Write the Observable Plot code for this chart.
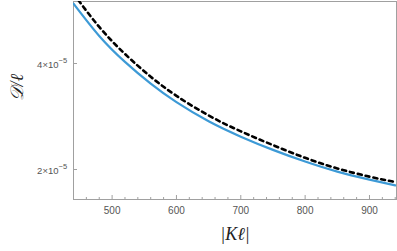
<!DOCTYPE html>
<html><head><meta charset="utf-8">
<script src="https://cdn.jsdelivr.net/npm/d3@7"></script>
<script src="https://cdn.jsdelivr.net/npm/@observablehq/plot@0.6"></script>
<style>body{margin:0;background:#fff}</style>
</head><body><div id="chart"></div>
<script>
// |Kℓ| values
const K = [440, 480, 520, 560, 600, 650, 700, 750, 800, 850, 900, 940];
// 𝒟/ℓ in units of 1e-5
const blueSeries = [5.13, 4.52, 4.03, 3.62, 3.27, 2.91, 2.62, 2.37, 2.15, 1.96, 1.81, 1.70];
const blackSeries = [5.32, 4.69, 4.18, 3.75, 3.39, 3.02, 2.72, 2.46, 2.22, 2.02, 1.865, 1.763];
const xTicks = [500, 600, 700, 800, 900];
const yTicks = [2, 4];
const yTickBase = ["2×10", "4×10"];
const yTickExp = ["−5", "−5"];
const xLabel = "|Kℓ|";
const yLabel = "𝒟/ℓ";

const blueData = K.map((k, i) => ({k, v: blueSeries[i]}));
const blackData = K.map((k, i) => ({k, v: blackSeries[i]}));
const yLab = yTicks.map((t, i) => ({t, base: yTickBase[i], exp: yTickExp[i]}));
const minor = d3.range(440, 941, 20).filter(t => !xTicks.includes(t));

const chart = Plot.plot({
  width: 397, height: 251,
  marginLeft: 73, marginRight: 1, marginTop: 1, marginBottom: 52,
  style: {fontFamily: "'Liberation Sans', Arial, sans-serif", fontSize: "10px", color: "#444", background: "#fff"},
  x: {domain: [440, 942]},
  y: {domain: [1.434, 5.17]},
  marks: [
    Plot.frame({stroke: "#a0a0a0"}),
    Plot.axisX({ticks: xTicks, tickSize: -4, stroke: "#a0a0a0", text: null, label: null}),
    Plot.axisX({ticks: minor, tickSize: -2, stroke: "#a0a0a0", text: null, label: null}),
    Plot.axisX({ticks: xTicks, tickSize: 0, tickPadding: 7, tickFormat: d => String(d), fill: "#555", fontSize: 10, label: null}),
    Plot.axisY({ticks: yTicks, tickSize: -4, stroke: "#a0a0a0", text: null, label: null}),
    Plot.text(yLab, {y: "t", text: "base", frameAnchor: "left", textAnchor: "end", dx: -15, dy: 1, fill: "#555", fontSize: 9.5}),
    Plot.text(yLab, {y: "t", text: "exp", frameAnchor: "left", textAnchor: "start", dx: -15, dy: -3, fill: "#555", fontSize: 7.5}),
    Plot.line(blueData, {x: "k", y: "v", stroke: "#3d9ad6", strokeWidth: 2.2, curve: "natural", clip: true}),
    Plot.line(blackData, {x: "k", y: "v", stroke: "#000", strokeWidth: 2.6, strokeDasharray: "4,4", curve: "natural", clip: true}),
    Plot.text([xLabel], {frameAnchor: "bottom", dy: 40, fontFamily: "'Liberation Serif', 'DejaVu Serif', serif", fontStyle: "italic", fontSize: 18, fill: "#222"}),
    Plot.text([yLabel], {frameAnchor: "left", dx: -56, rotate: -90, fontFamily: "'Liberation Serif', 'DejaVu Serif', serif", fontStyle: "italic", fontSize: 18, fill: "#222"})
  ]
});
document.getElementById("chart").appendChild(chart);
</script>
</body></html>
